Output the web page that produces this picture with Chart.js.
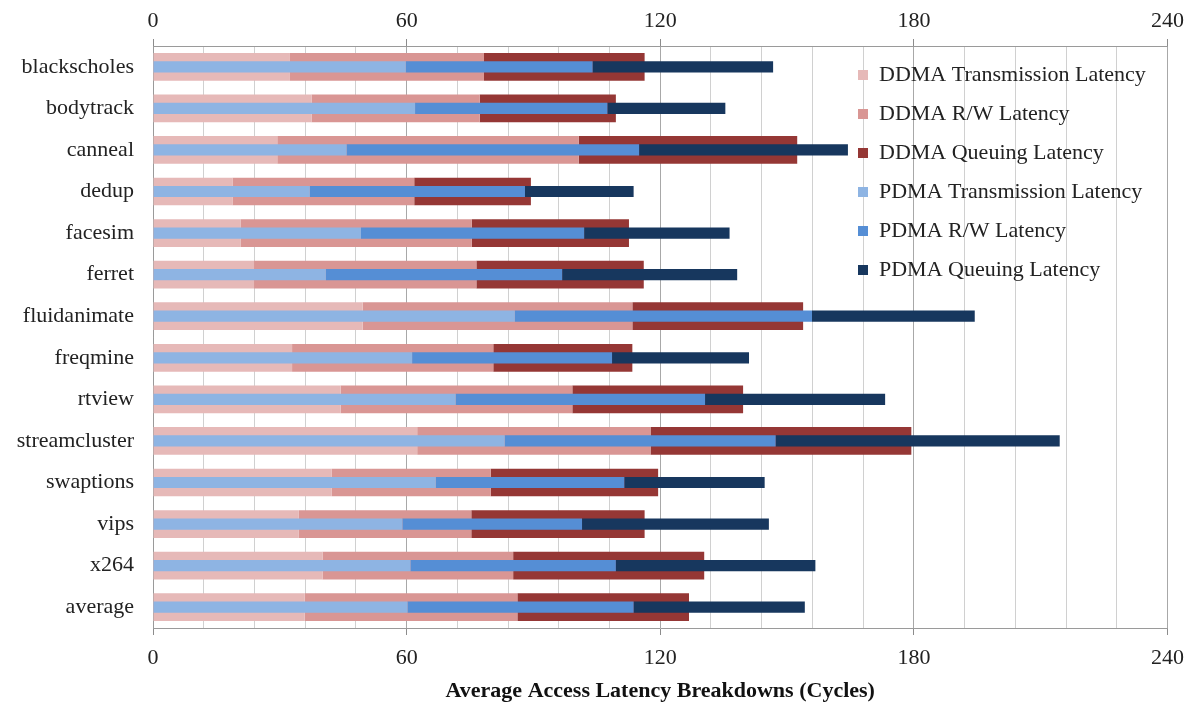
<!DOCTYPE html>
<html>
<head>
<meta charset="utf-8">
<script src="https://cdn.jsdelivr.net/npm/chart.js@4/dist/chart.umd.min.js"></script>
<style>
html,body{margin:0;padding:0;background:#fff;}
#wrap{width:1194px;height:706px;position:relative;}
</style>
</head>
<body>
<div id="wrap"><canvas id="c"></canvas></div>
<script>
const categories = ['blackscholes','bodytrack','canneal','dedup','facesim','ferret','fluidanimate','freqmine','rtview','streamcluster','swaptions','vips','x264','average'];

const ddmaTransmission = [32.4, 37.5, 29.4, 18.8, 20.7, 23.9, 49.6, 32.9, 44.4, 62.5, 42.3, 34.5, 40.1, 35.9];
const ddmaRW           = [45.9, 39.8, 71.3, 43.0, 54.7, 52.6, 63.8, 47.6, 54.8, 55.2, 37.6, 40.8, 45.1, 50.3];
const ddmaQueuing      = [38.0, 32.2, 51.7, 27.6, 37.2, 39.6, 40.4, 32.9, 40.4, 61.7, 39.6, 41.0, 45.2, 40.6];

const pdmaTransmission = [59.8, 62.0, 45.8, 37.1, 49.2, 40.9, 85.6, 61.3, 71.6, 83.2, 66.9, 59.0, 60.9, 60.2];
const pdmaRW           = [44.2, 45.5, 69.2, 50.9, 52.8, 55.9, 70.3, 47.3, 59.0, 64.1, 44.6, 42.5, 48.6, 53.5];
const pdmaQueuing      = [42.7, 27.9, 49.4, 25.7, 34.4, 41.4, 38.5, 32.4, 42.6, 67.2, 33.2, 44.2, 47.2, 40.5];

const axisMin = 0;
const axisMax = 240;
const gridStep = 12;
const labelStep = 60;
const axisTitle = 'Average Access Latency Breakdowns (Cycles)';

const FONT = '"Liberation Serif", "Times New Roman", serif';
const TEXT = '#222';

function ddmaSet(label, data, color) {
  return { label, data, backgroundColor: color, yAxisID: 'y', order: 1, grouped: false,
           barPercentage: 0.667, categoryPercentage: 1, borderWidth: 0 };
}
function pdmaSet(label, data, color) {
  return { label, data, backgroundColor: color, yAxisID: 'y2', order: 0, grouped: false,
           barPercentage: 0.27, categoryPercentage: 1, borderWidth: 0 };
}

const legendInside = {
  id: 'legendInside',
  afterLayout(chart) {
    const lg = chart.legend;
    if (!lg) return;
    const w = lg.width;
    const pad = lg.options.labels.padding;
    lg.left = 858 - pad;
    lg.right = lg.left + w;
    lg.top = chart.chartArea.top + 1;
    lg.bottom = chart.chartArea.bottom;
    lg.height = lg.bottom - lg.top;
  }
};

new Chart(document.getElementById('c'), {
  type: 'bar',
  data: {
    labels: categories,
    datasets: [
      ddmaSet('DDMA Transmission Latency', ddmaTransmission, '#e6b9b8'),
      ddmaSet('DDMA R/W Latency', ddmaRW, '#d99694'),
      ddmaSet('DDMA Queuing Latency', ddmaQueuing, '#953735'),
      pdmaSet('PDMA Transmission Latency', pdmaTransmission, '#8eb4e3'),
      pdmaSet('PDMA R/W Latency', pdmaRW, '#558ed5'),
      pdmaSet('PDMA Queuing Latency', pdmaQueuing, '#17375e')
    ]
  },
  options: {
    indexAxis: 'y',
    responsive: true,
    maintainAspectRatio: false,
    animation: false,
    devicePixelRatio: 1,
    layout: { padding: { left: 0, right: 26, top: 0, bottom: 0 } },
    plugins: {
      tooltip: { enabled: false },
      legend: {
        position: 'chartArea',
        align: 'start',
        labels: {
          boxWidth: 10, boxHeight: 10, padding: 17,
          color: TEXT,
          font: { family: FONT, size: 22 },
          sort: (a, b) => a.datasetIndex - b.datasetIndex
        }
      }
    },
    scales: {
      x: {
        type: 'linear', position: 'bottom', stacked: true,
        min: axisMin, max: axisMax,
        afterFit: s => { s.height = 78; },
        ticks: {
          stepSize: gridStep, autoSkip: false, maxRotation: 0, padding: 10,
          color: TEXT, font: { family: FONT, size: 22 },
          callback: v => (v % labelStep === 0 ? String(v) : '')
        },
        grid: {
          color: c => (c.tick && c.tick.value % labelStep === 0 ? '#a8a8a8' : '#d0d0d0'),
          tickColor: c => (c.tick && c.tick.value % labelStep === 0 ? '#8c8c8c' : 'rgba(0,0,0,0)'),
          tickLength: 7, lineWidth: 1
        },
        border: { color: '#9a9a9a', width: 1 },
        title: {
          display: true, text: axisTitle, color: '#111',
          font: { family: FONT, size: 22, weight: 'bold' },
          padding: { top: 0, bottom: 1 }
        }
      },
      x2: {
        type: 'linear', position: 'top',
        min: axisMin, max: axisMax,
        afterFit: s => { s.height = 46; },
        ticks: {
          stepSize: labelStep, autoSkip: false, maxRotation: 0, padding: 5,
          color: TEXT, font: { family: FONT, size: 22 }
        },
        grid: { drawOnChartArea: false, tickLength: 7, color: '#8c8c8c' },
        border: { color: '#9a9a9a', width: 1 }
      },
      y: {
        type: 'category', position: 'left', stacked: true, offset: true,
        afterFit: s => { s.width = 153; },
        ticks: { padding: 19, color: TEXT, font: { family: FONT, size: 22 }, autoSkip: false },
        grid: { display: false, drawTicks: false },
        border: { color: '#9a9a9a', width: 1 }
      },
      y2: {
        type: 'category', labels: categories, position: 'left', stacked: true, offset: true,
        display: false
      }
    }
  },
  plugins: [legendInside]
});
</script>
</body>
</html>
